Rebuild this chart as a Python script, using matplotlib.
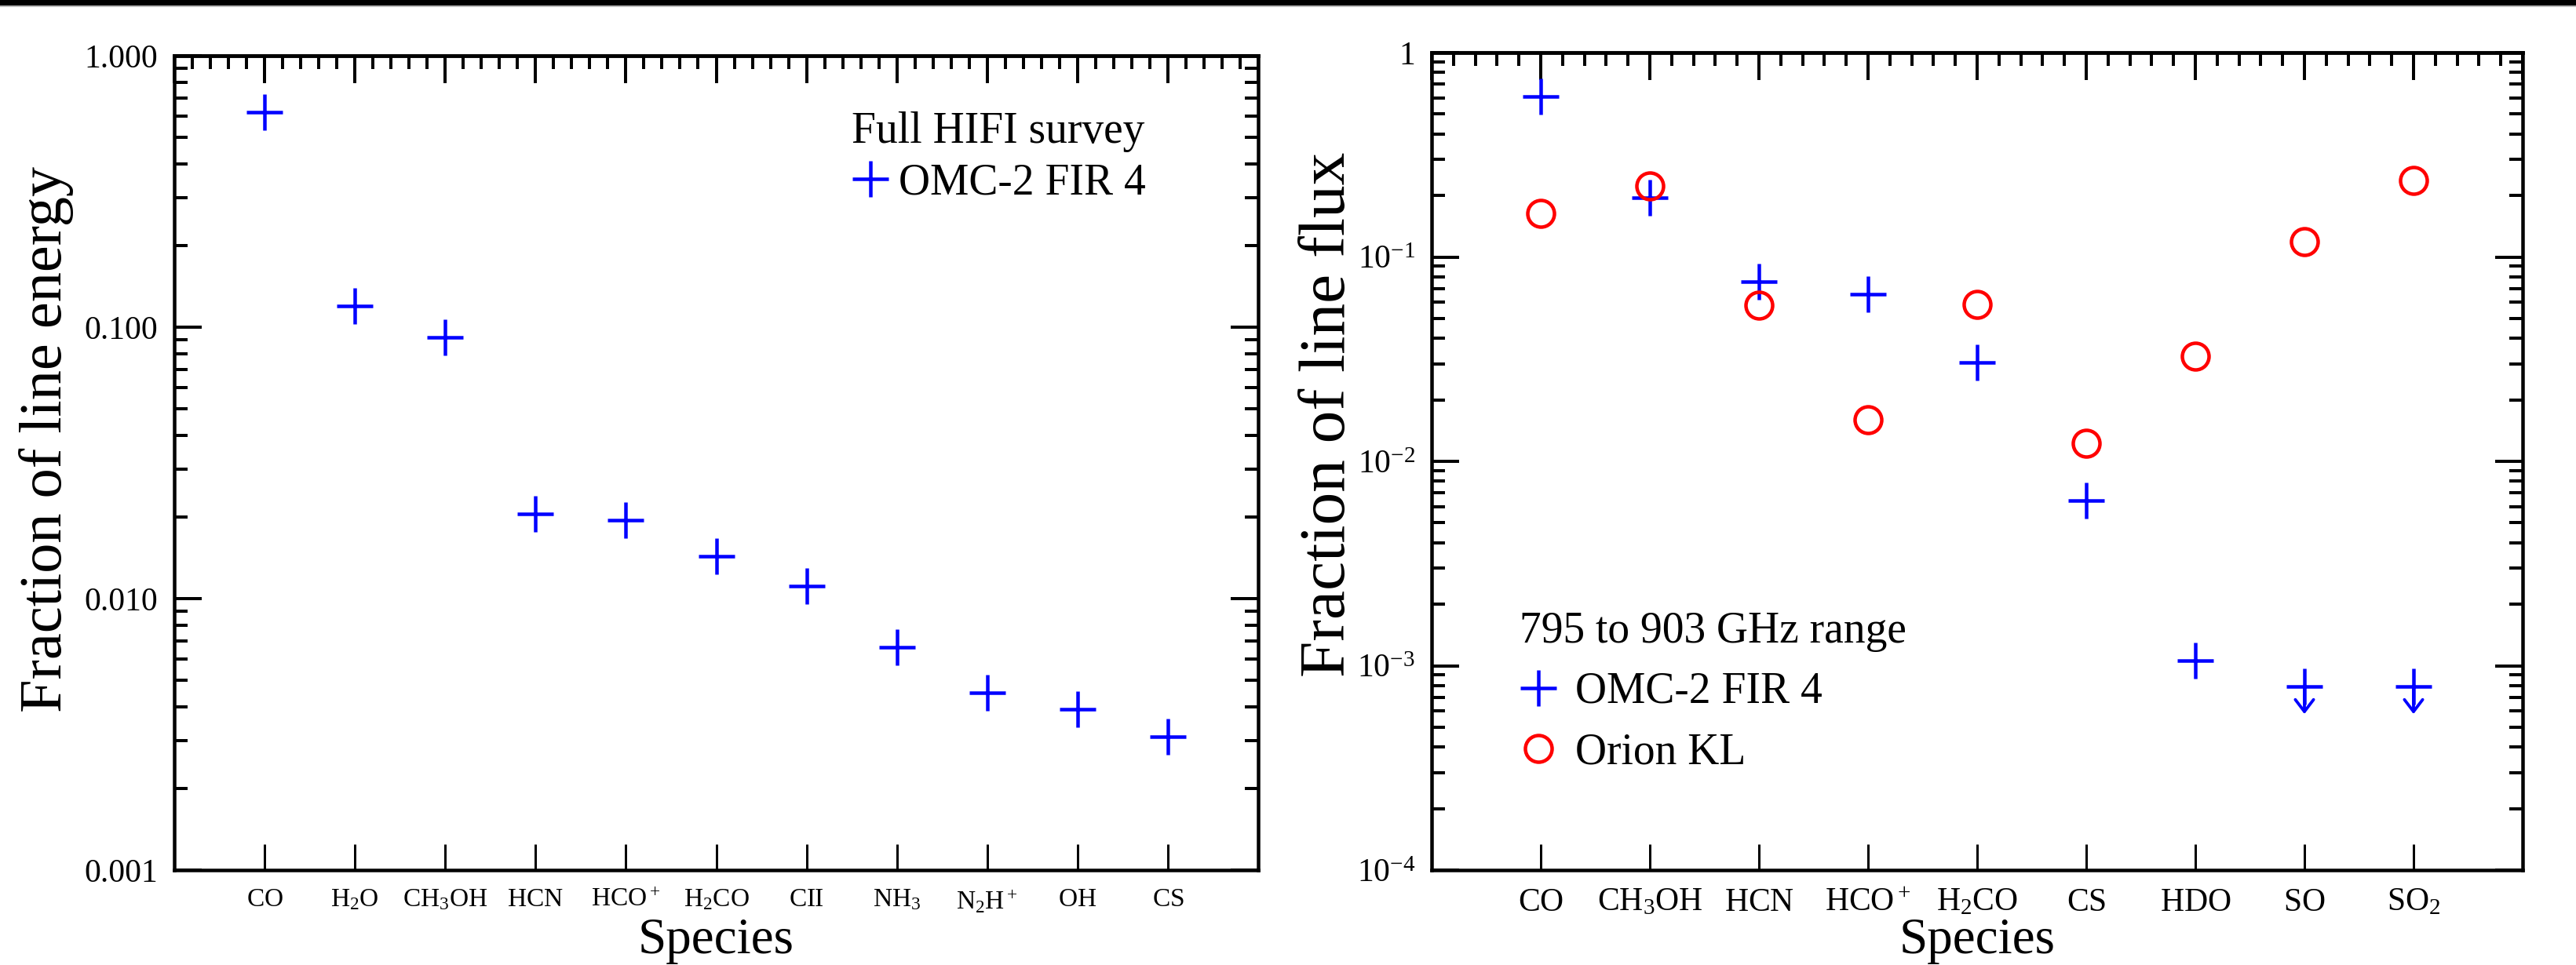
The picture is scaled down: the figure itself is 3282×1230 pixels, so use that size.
import numpy as np
import matplotlib
matplotlib.use('Agg')
import matplotlib.pyplot as plt
from matplotlib.ticker import (LogLocator, NullFormatter, FixedLocator,
                               MultipleLocator, FixedFormatter, NullLocator)
from matplotlib.patches import Rectangle
from matplotlib.font_manager import FontProperties

plt.rcParams['font.family'] = 'serif'
plt.rcParams['font.serif'] = ['Liberation Serif', 'DejaVu Serif']
plt.rcParams['mathtext.fontset'] = 'custom'
plt.rcParams['mathtext.rm'] = 'Liberation Serif'
plt.rcParams['mathtext.it'] = 'Liberation Serif:italic'
plt.rcParams['mathtext.bf'] = 'Liberation Serif:bold'
SERIF = 'Liberation Serif'

# ---------------- data ----------------
left_species = [r'$\mathrm{CO}$', r'$\mathrm{H_2O}$', r'$\mathrm{CH_3OH}$', r'$\mathrm{HCN}$',
                r'$\mathrm{HCO^+}$', r'$\mathrm{H_2CO}$', r'$\mathrm{CII}$', r'$\mathrm{NH_3}$',
                r'$\mathrm{N_2H^+}$', r'$\mathrm{OH}$', r'$\mathrm{CS}$']
left_fraction = [0.62, 0.120, 0.092, 0.0205, 0.0195, 0.0143, 0.0111, 0.0066, 0.0045, 0.0039, 0.0031]
left_yticks = [0.001, 0.01, 0.1, 1.0]
left_yticklabels = ['0.001', '0.010', '0.100', '1.000']

right_species = [r'$\mathrm{CO}$', r'$\mathrm{CH_3OH}$', r'$\mathrm{HCN}$', r'$\mathrm{HCO^+}$',
                 r'$\mathrm{H_2CO}$', r'$\mathrm{CS}$', r'$\mathrm{HDO}$', r'$\mathrm{SO}$',
                 r'$\mathrm{SO_2}$']
omc_fraction = [0.61, 0.195, 0.076, 0.066, 0.0305, 0.0064, 0.00106, 0.00079, 0.00079]
omc_upper_limit = [False, False, False, False, False, False, False, True, True]
orion_fraction = [0.163, 0.222, 0.058, 0.016, 0.0586, 0.01225, 0.0327, 0.119, 0.237]
right_yticks = [1e-4, 1e-3, 1e-2, 1e-1, 1.0]
right_yticklabels = [r'$10^{-4}$', r'$10^{-3}$', r'$10^{-2}$', r'$10^{-1}$', '1']

# ---------------- layout ----------------
W, H = 3282, 1230
DPI = 100
PX = 72.0 / DPI  # points per pixel
fig = plt.figure(figsize=(W / DPI, H / DPI), dpi=DPI)
fig.patch.set_facecolor('white')


def px_axes(l, t, r, b):
    return fig.add_axes([l / W, 1 - b / H, (r - l) / W, (b - t) / H])


ax1 = px_axes(222, 71, 1603, 1109)
ax2 = px_axes(1824, 67, 3214, 1109)

BLUE = '#0000ff'
RED = '#ff0000'
SPINE_W = 4.5 * PX
TICK_W = 4.0 * PX


def style_axes(ax, species, yticks, yticklabels, xt_size, yt_size):
    n = len(species)
    ax.set_yscale('log')
    ax.set_xlim(0, n + 1)
    ax.set_ylim(yticks[0], yticks[-1])
    ax.xaxis.set_major_locator(FixedLocator(range(1, n + 1)))
    ax.xaxis.set_major_formatter(FixedFormatter(species))
    ax.xaxis.set_minor_locator(NullLocator())
    ax.yaxis.set_major_locator(FixedLocator(yticks))
    ax.yaxis.set_major_formatter(FixedFormatter(yticklabels))
    ax.yaxis.set_minor_locator(LogLocator(base=10, subs=np.arange(2, 10)))
    ax.yaxis.set_minor_formatter(NullFormatter())
    ax.tick_params(axis='y', which='both', direction='in', left=True, right=True,
                   width=TICK_W, color='black')
    ax.tick_params(axis='y', which='major', length=35 * PX, labelsize=yt_size, pad=15,
                   labelfontfamily=SERIF)
    ax.tick_params(axis='y', which='minor', length=17 * PX)
    ax.tick_params(axis='x', which='major', direction='in', bottom=True, top=False,
                   length=33 * PX, width=3.0 * PX, labelsize=xt_size, pad=16)
    for s in ax.spines.values():
        s.set_linewidth(SPINE_W)
    sec = ax.secondary_xaxis('top')
    sec.xaxis.set_major_locator(MultipleLocator(1))
    sec.xaxis.set_minor_locator(MultipleLocator(0.2))
    sec.tick_params(axis='x', which='both', direction='in', labeltop=False,
                    width=TICK_W, color='black')
    sec.tick_params(axis='x', which='major', length=35 * PX)
    sec.tick_params(axis='x', which='minor', length=17 * PX)
    sec.spines['top'].set_linewidth(SPINE_W)
    return sec


style_axes(ax1, left_species, left_yticks, left_yticklabels, 24, 30)
style_axes(ax2, right_species, right_yticks, right_yticklabels, 30, 30)

MS_PLUS = 47 * PX
MEW = 4.5 * PX
MS_CIRC = 34 * PX
LEG_FP = FontProperties(family=SERIF, size=40)

# ---------------- left panel ----------------
x1 = np.arange(1, len(left_species) + 1)
h1, = ax1.plot(x1, left_fraction, ls='none', marker='+', ms=MS_PLUS, mew=MEW,
               color=BLUE, label='OMC-2 FIR 4')
ax1.set_xlabel('Species', fontsize=47, fontfamily=SERIF)
ax1.xaxis.set_label_coords(0.5, -0.058)
ax1.set_ylabel('Fraction of line energy', fontsize=55, fontfamily=SERIF, va='center')
ax1.yaxis.set_label_coords(-0.118, 0.529)

leg1 = ax1.legend(handles=[h1], title='Full HIFI survey', loc='upper left',
                  bbox_to_anchor=((1085 - 222) / 1381, (1109 - 142) / 1038),
                  frameon=False, prop=LEG_FP, title_fontproperties=LEG_FP,
                  alignment='left', handlelength=48 / 55.6, handletextpad=12 / 55.6,
                  borderpad=0, borderaxespad=0, labelspacing=0.25, handleheight=0.7)

# ---------------- right panel ----------------
x2 = np.arange(1, len(right_species) + 1)
h2, = ax2.plot(x2, omc_fraction, ls='none', marker='+', ms=MS_PLUS, mew=MEW,
               color=BLUE, label='OMC-2 FIR 4', zorder=3)
h3, = ax2.plot(x2, orion_fraction, ls='none', marker='o', ms=MS_CIRC, mew=MEW,
               mfc='none', mec=RED, label='Orion KL', zorder=4)
for xi, yi, up in zip(x2, omc_fraction, omc_upper_limit):
    if up:
        ax2.annotate('', xy=(xi, yi), xytext=(0, -35 * PX), textcoords='offset points',
                     arrowprops=dict(arrowstyle='<-, head_length=0.5, head_width=0.38',
                                     color=BLUE, lw=MEW * 0.85, shrinkA=0, shrinkB=0,
                                     mutation_scale=22))
ax2.set_xlabel('Species', fontsize=47, fontfamily=SERIF)
ax2.xaxis.set_label_coords(0.5, -0.058)
ax2.set_ylabel('Fraction of line flux', fontsize=60, fontfamily=SERIF, va='center')
ax2.yaxis.set_label_coords((1693 - 1824) / 1390, 0.5576)

leg2 = ax2.legend(handles=[h2, h3], title='795 to 903 GHz range', loc='upper left',
                  bbox_to_anchor=((1936 - 1824) / 1390, (1109 - 779) / 1042),
                  frameon=False, prop=LEG_FP, title_fontproperties=LEG_FP,
                  alignment='left', handlelength=48 / 55.6, handletextpad=23 / 55.6,
                  borderpad=0, borderaxespad=0, labelspacing=0.45, handleheight=0.7)

# top black bar
fig.add_artist(Rectangle((0, 1 - 7 / H), 1, 7 / H, transform=fig.transFigure,
                         facecolor='black', edgecolor='none', zorder=10))
fig.add_artist(Rectangle((0, 1 - 9 / H), 1, 2 / H, transform=fig.transFigure,
                         facecolor='#bbbbbb', edgecolor='none', zorder=9))

fig.savefig('out.png', dpi=DPI)
